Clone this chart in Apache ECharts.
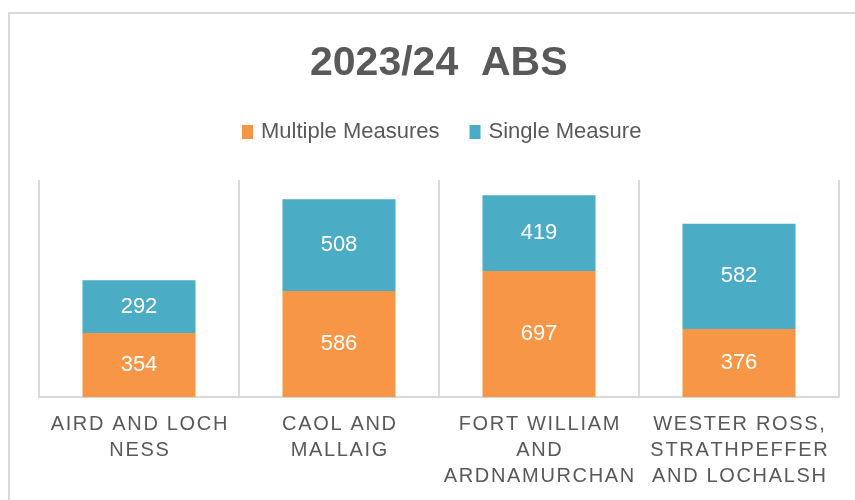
<!DOCTYPE html>
<html>
<head>
<meta charset="utf-8">
<script src="https://cdn.jsdelivr.net/npm/echarts@6/dist/echarts.min.js"></script>
<style>
  html, body { margin: 0; padding: 0; background: #fff; }
  #chart-container { width: 855px; height: 500px; }
</style>
</head>
<body>
<div id="chart-container"></div>
<script>
const categories = ['Aird and Loch Ness', 'Caol and Mallaig', 'Fort William and Ardnamurchan', 'Wester Ross, Strathpeffer and Lochalsh'];
const tickLabels = ['AIRD AND LOCH\nNESS', 'CAOL AND\nMALLAIG', 'FORT WILLIAM\nAND\nARDNAMURCHAN', 'WESTER ROSS,\nSTRATHPEFFER\nAND LOCHALSH'];
const multipleMeasures = [354, 586, 697, 376];
const singleMeasure = [292, 508, 419, 582];

const dom = document.getElementById('chart-container');
const myChart = echarts.init(dom, null, { renderer: 'canvas' });

const TEXT = '#595959';
const GRID = '#d9d9d9';

// spread letters out a little, like the original axis font
const spaced = (s) => s.split('\n').map((line) => line.split('').join('\u200A')).join('\n');

const barLabel = {
  show: true,
  position: 'inside',
  color: '#fff',
  fontSize: 22,
  fontFamily: 'Liberation Sans',
};

const option = {
  title: {
    text: '2023/24  ABS',
    left: 305,
    top: 38,
    textStyle: { fontSize: 41, fontWeight: 'bold', color: TEXT, fontFamily: 'Liberation Sans' },
  },
  legend: {
    top: 116,
    left: 237,
    icon: 'rect',
    itemWidth: 11,
    itemHeight: 14,
    itemGap: 30,
    textStyle: { fontSize: 22, color: TEXT, fontFamily: 'Liberation Sans', padding: [0, 0, 0, 3] },
    data: ['Multiple Measures', 'Single Measure'],
  },
  graphic: [
    { type: 'rect', shape: { x: 8, y: 12, width: 847, height: 2 }, style: { fill: GRID } },
    { type: 'rect', shape: { x: 8, y: 12, width: 2, height: 488 }, style: { fill: GRID } },
  ],
  grid: { left: 39, right: 16, top: 180, bottom: 103 },
  xAxis: {
    type: 'category',
    data: categories,
    axisTick: { show: false },
    axisLine: { lineStyle: { color: GRID, width: 2 } },
    splitLine: { show: true, lineStyle: { color: GRID, width: 2 } },
    axisLabel: {
      margin: 14,
      color: TEXT,
      fontSize: 20,
      lineHeight: 26,
      fontFamily: 'Liberation Sans',
      interval: 0,
      formatter: (value, idx) => spaced(tickLabels[idx]),
    },
  },
  yAxis: {
    type: 'value',
    min: 0,
    max: 1200,
    show: false,
  },
  series: [
    {
      name: 'Multiple Measures',
      type: 'bar',
      stack: 'total',
      barWidth: 113,
      itemStyle: { color: '#F79646' },
      label: barLabel,
      data: multipleMeasures,
    },
    {
      name: 'Single Measure',
      type: 'bar',
      stack: 'total',
      barWidth: 113,
      itemStyle: { color: '#4BACC6' },
      label: barLabel,
      data: singleMeasure,
    },
  ],
};

myChart.setOption(option);
window.addEventListener('resize', myChart.resize);
</script>
</body>
</html>
